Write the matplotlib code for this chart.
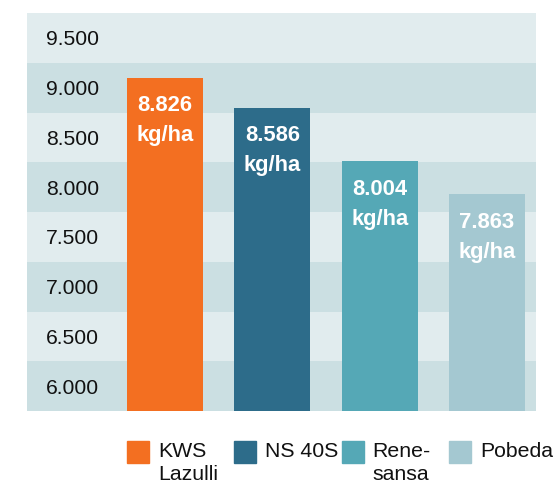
import matplotlib
matplotlib.use("Agg")
from matplotlib import pyplot as plt
from matplotlib.patches import Rectangle
import matplotlib.transforms as mtransforms

# Data (bar heights, labels as printed)
varieties = ["KWS\nLazulli", "NS 40S", "Rene-\nsansa", "Pobeda"]
bar_heights = [9.10, 8.80, 8.26, 7.93]
value_labels = ["8.826", "8.586", "8.004", "7.863"]
unit = "kg/ha"
tick_values = [6.0, 6.5, 7.0, 7.5, 8.0, 8.5, 9.0, 9.5]
tick_labels = ["6.000", "6.500", "7.000", "7.500", "8.000", "8.500", "9.000", "9.500"]

colors = ["#F36F21", "#2D6C8A", "#55A8B6", "#A4C8D1"]
band_light = "#E1ECEE"
band_dark = "#CBDFE2"

plt.rcParams["font.family"] = ["Liberation Sans", "DejaVu Sans"]

fig = plt.figure(figsize=(5.57, 4.83), dpi=100)
ax = fig.add_axes([27/557, 72/483, 509/557, 398/483])

# background bands
for k, v in enumerate(tick_values):
    ax.axhspan(v - 0.25, v + 0.25, color=band_dark if k % 2 == 0 else band_light,
               lw=0, zorder=0)

x = range(len(bar_heights))
w = 0.708
ax.bar(x, bar_heights, width=w, color=colors, zorder=2)

for i, (h, lab) in enumerate(zip(bar_heights, value_labels)):
    ax.annotate(lab, (i, h), xytext=(0, -28*0.72), textcoords="offset points",
                ha="center", va="center", color="white", fontsize=15.8,
                fontweight="bold", zorder=3)
    ax.annotate(unit, (i, h), xytext=(0, -58*0.72), textcoords="offset points",
                ha="center", va="center", color="white", fontsize=15.8,
                fontweight="bold", zorder=3)

ax.set_xlim(-1.286, 3.457)
ax.set_ylim(5.75, 9.75)
ax.set_xticks([])
ax.set_yticks(tick_values)
ax.set_yticklabels(tick_labels, ha="left", fontsize=15.2, color="#111111")
ax.tick_params(axis="y", length=0, pad=-19*0.72)
for s in ax.spines.values():
    s.set_visible(False)

# legend below the axes, aligned with bar left edges
trans = mtransforms.blended_transform_factory(ax.transData, fig.transFigure)
px_w = 22 / 107.3
for i, (name, c) in enumerate(zip(varieties, colors)):
    x0 = i - w / 2
    ax.add_patch(Rectangle((x0, (483 - 463) / 483), px_w, 22 / 483, color=c,
                           transform=trans, clip_on=False))
    ax.text(x0 + 31 / 107.3, (483 - 442) / 483, name, transform=trans,
            ha="left", va="top", fontsize=15.3, color="#111111", linespacing=1.28)

plt.savefig("out.png", dpi=100)
